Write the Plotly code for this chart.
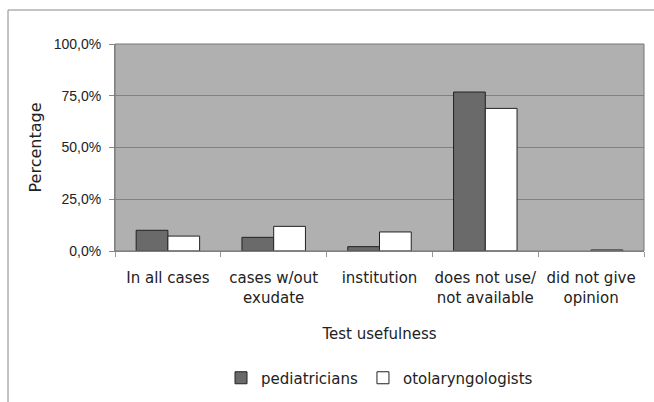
import plotly.graph_objects as go

categories = ["In all cases", "cases w/out<br>exudate", "institution",
              "does not use/<br>not available", "did not give<br>opinion"]
pediatricians = [10.0, 6.6, 2.1, 76.8, 0.0]
otolaryngologists = [7.2, 11.9, 9.2, 68.9, 0.5]
y_ticks = [0, 25, 50, 75, 100]
y_tick_labels = ["0,0%", "25,0%", "50,0%", "75,0%", "100,0%"]

W, H = 654, 402
L, R, T, B = 115, 10, 44, 151

fig = go.Figure()
fig.add_trace(go.Bar(x=categories, y=pediatricians, name="pediatricians",
                     marker=dict(color="#6a6a6a",
                                 line=dict(color="#222222",
                                           width=[1 if v > 0 else 0 for v in pediatricians]))))
fig.add_trace(go.Bar(x=categories, y=otolaryngologists, name="otolaryngologists",
                     marker=dict(color="#ffffff", line=dict(color="#222222", width=1))))

fig.update_layout(
    width=W, height=H,
    margin=dict(l=L, r=R, t=T, b=B, pad=0, autoexpand=False),
    paper_bgcolor="white",
    plot_bgcolor="#b0b0b0",
    barmode="group", bargap=0.4, bargroupgap=0,
    font=dict(family="DejaVu Sans", size=15, color="#222222"),
    showlegend=True,
    legend=dict(orientation="h", x=0.5, xanchor="center", xref="paper",
                y=(H - 378) / H, yanchor="middle", yref="container",
                font=dict(family="DejaVu Sans", size=15),
                traceorder="normal"),
    xaxis=dict(
        type="category", automargin=False, tickangle=0,
        title=dict(text="Test usefulness", standoff=22,
                   font=dict(family="DejaVu Sans", size=15)),
        tickson="boundaries", ticks="outside", ticklen=5, tickcolor="#999999",
        ticklabelstandoff=13,
        showline=True, linecolor="#888888", linewidth=1,
        tickfont=dict(family="DejaVu Sans", size=15),
        showgrid=False,
    ),
    yaxis=dict(
        range=[0, 100], automargin=False,
        tickvals=y_ticks, ticktext=y_tick_labels,
        ticks="outside", ticklen=5, tickcolor="#888888",
        ticklabelstandoff=5,
        showline=True, linecolor="#888888", linewidth=1,
        gridcolor="#808080", gridwidth=1,
        zeroline=False,
        tickfont=dict(family="Liberation Sans", size=14),
        title=dict(text="Percentage", standoff=8,
                   font=dict(family="DejaVu Sans", size=16)),
    ),
)

# plot area border
fig.add_shape(type="rect", xref="paper", yref="paper", x0=0, x1=1, y0=0, y1=1,
              line=dict(color="#777777", width=1), layer="above")
# outer chart frame (partially outside the view)
fig.add_shape(type="rect", xref="paper", yref="paper",
              x0=(8 - L) / (W - L - R), x1=(W + 20 - L) / (W - L - R),
              y0=-(H + 20 - (H - B)) / (H - T - B), y1=1 + (T - 10) / (H - T - B),
              line=dict(color="#888888", width=1), layer="below")

fig.write_html("out.html", config={"displayModeBar": False},
               post_script="document.body.style.margin='0';")
